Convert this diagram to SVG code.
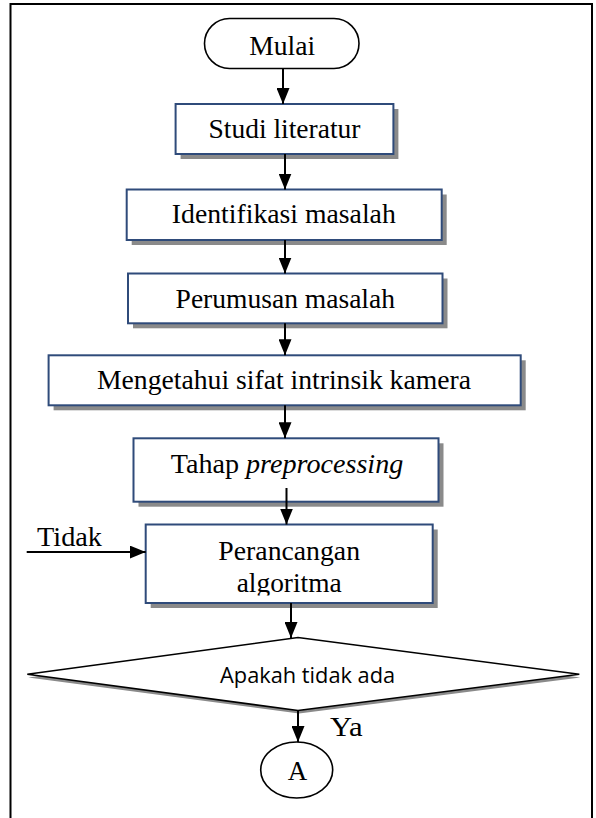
<svg xmlns="http://www.w3.org/2000/svg" width="596" height="818" viewBox="0 0 596 818">
  <style>
    .box { fill: #ffffff; stroke: #2F4B7A; stroke-width: 2; }
    .shadow { fill: #8a8a8a; stroke: none; }
    .term { fill: #ffffff; stroke: #000000; stroke-width: 1.6; }
    .t { font-family: "Liberation Serif", "Times New Roman", serif; font-size: 27px; fill: #000000; text-anchor: middle; }
    .tl { font-family: "Liberation Serif", "Times New Roman", serif; font-size: 27px; fill: #000000; }
    .s { font-family: "Open Sans", "Liberation Sans", sans-serif; font-size: 21px; fill: #000000; text-anchor: middle; }
    .conn { stroke: #000000; stroke-width: 2; fill: none; marker-end: url(#arrow); }
  </style>
  <defs>
    <marker id="arrow" markerUnits="userSpaceOnUse" markerWidth="16" markerHeight="13" refX="16" refY="6.5" orient="auto">
      <path d="M0,0 L16,6.5 L0,13 Z" fill="#000000"/>
    </marker>
    <clipPath id="clipAlg">
      <rect x="146" y="565" width="286" height="30.5"/>
    </clipPath>
  </defs>

  <rect x="0" y="0" width="596" height="818" fill="#ffffff"/>
  <g id="frame">
    <rect x="10.5" y="4" width="581.5" height="900" fill="none" stroke="#000000" stroke-width="2"/>
  </g>

  <g id="mulai">
    <rect class="term" x="204.5" y="18.5" width="154.5" height="50" rx="25" ry="25"/>
    <text class="t" x="282.2" y="54.5" font-size="28" textLength="66" lengthAdjust="spacingAndGlyphs">Mulai</text>
  </g>

  <g id="studi">
    <rect class="shadow" x="180.6" y="109" width="217.8" height="50"/>
    <rect class="box" x="175.6" y="104" width="217.8" height="50"/>
    <text class="t" x="284.5" y="138.3" textLength="152" lengthAdjust="spacingAndGlyphs">Studi literatur</text>
  </g>

  <g id="identifikasi">
    <rect class="shadow" x="131.7" y="194.5" width="315" height="50.5"/>
    <rect class="box" x="126.7" y="189.5" width="315" height="50.5"/>
    <text class="t" x="283.8" y="223.3" textLength="224" lengthAdjust="spacingAndGlyphs">Identifikasi masalah</text>
  </g>

  <g id="perumusan">
    <rect class="shadow" x="133" y="278.5" width="314.5" height="49.8"/>
    <rect class="box" x="128" y="273.5" width="314.5" height="49.8"/>
    <text class="t" x="285.3" y="307.5" textLength="219.4" lengthAdjust="spacingAndGlyphs">Perumusan masalah</text>
  </g>

  <g id="mengetahui">
    <rect class="shadow" x="53.6" y="360.3" width="472.1" height="50"/>
    <rect class="box" x="48.6" y="355.3" width="472.1" height="50"/>
    <text class="t" x="284" y="389.3" textLength="374" lengthAdjust="spacingAndGlyphs">Mengetahui sifat intrinsik kamera</text>
  </g>

  <g id="tahap">
    <rect class="shadow" x="138.5" y="443.3" width="305" height="63.4"/>
    <rect class="box" x="133.5" y="438.3" width="305" height="63.4"/>
    <text class="t" x="287" y="473" textLength="232.6" lengthAdjust="spacingAndGlyphs">Tahap <tspan font-style="italic">preprocessing</tspan></text>
  </g>

  <g id="perancangan">
    <rect class="shadow" x="150.7" y="529.5" width="287" height="78.5"/>
    <rect class="box" x="145.7" y="524.5" width="287" height="78.5"/>
    <text class="t" x="289.2" y="560" textLength="141.7" lengthAdjust="spacingAndGlyphs">Perancangan</text>
    <text class="t" x="289.2" y="591.7" textLength="105" lengthAdjust="spacingAndGlyphs" clip-path="url(#clipAlg)">algoritma</text>
  </g>

  <g id="keputusan">
    <polygon points="28.3,677.5 299,640.5 580.3,677.5 299,713.5" fill="#8a8a8a"/>
    <polygon points="27.3,674.3 298,637.5 579.3,674.3 298,710.5" fill="#ffffff" stroke="#000000" stroke-width="1.6"/>
    <text class="s" x="307.6" y="683.3" textLength="175" lengthAdjust="spacingAndGlyphs">Apakah tidak ada</text>
  </g>

  <g id="konektor-a">
    <ellipse cx="296.7" cy="770" rx="36" ry="28" fill="#ffffff" stroke="#000000" stroke-width="1.6"/>
    <text class="t" x="297.5" y="779.7" font-size="28">A</text>
  </g>

  <g id="labels">
    <text class="tl" x="37" y="546" textLength="65" lengthAdjust="spacingAndGlyphs">Tidak</text>
    <text class="tl" x="330" y="736" textLength="32.7" lengthAdjust="spacingAndGlyphs">Ya</text>
  </g>

  <g id="connectors">
    <line class="conn" x1="283" y1="68.5" x2="283" y2="104"/>
    <line class="conn" x1="285" y1="154" x2="285" y2="189.5"/>
    <line class="conn" x1="285" y1="240" x2="285" y2="273.5"/>
    <line class="conn" x1="285" y1="323.3" x2="285" y2="355.3"/>
    <line class="conn" x1="285" y1="405.3" x2="285" y2="438.3"/>
    <line class="conn" x1="286.5" y1="488" x2="286.5" y2="524.5"/>
    <line class="conn" x1="26.7" y1="552" x2="145.7" y2="552"/>
    <line class="conn" x1="291" y1="603" x2="291" y2="638"/>
    <line class="conn" x1="298" y1="710.5" x2="298" y2="742"/>
  </g>
</svg>
